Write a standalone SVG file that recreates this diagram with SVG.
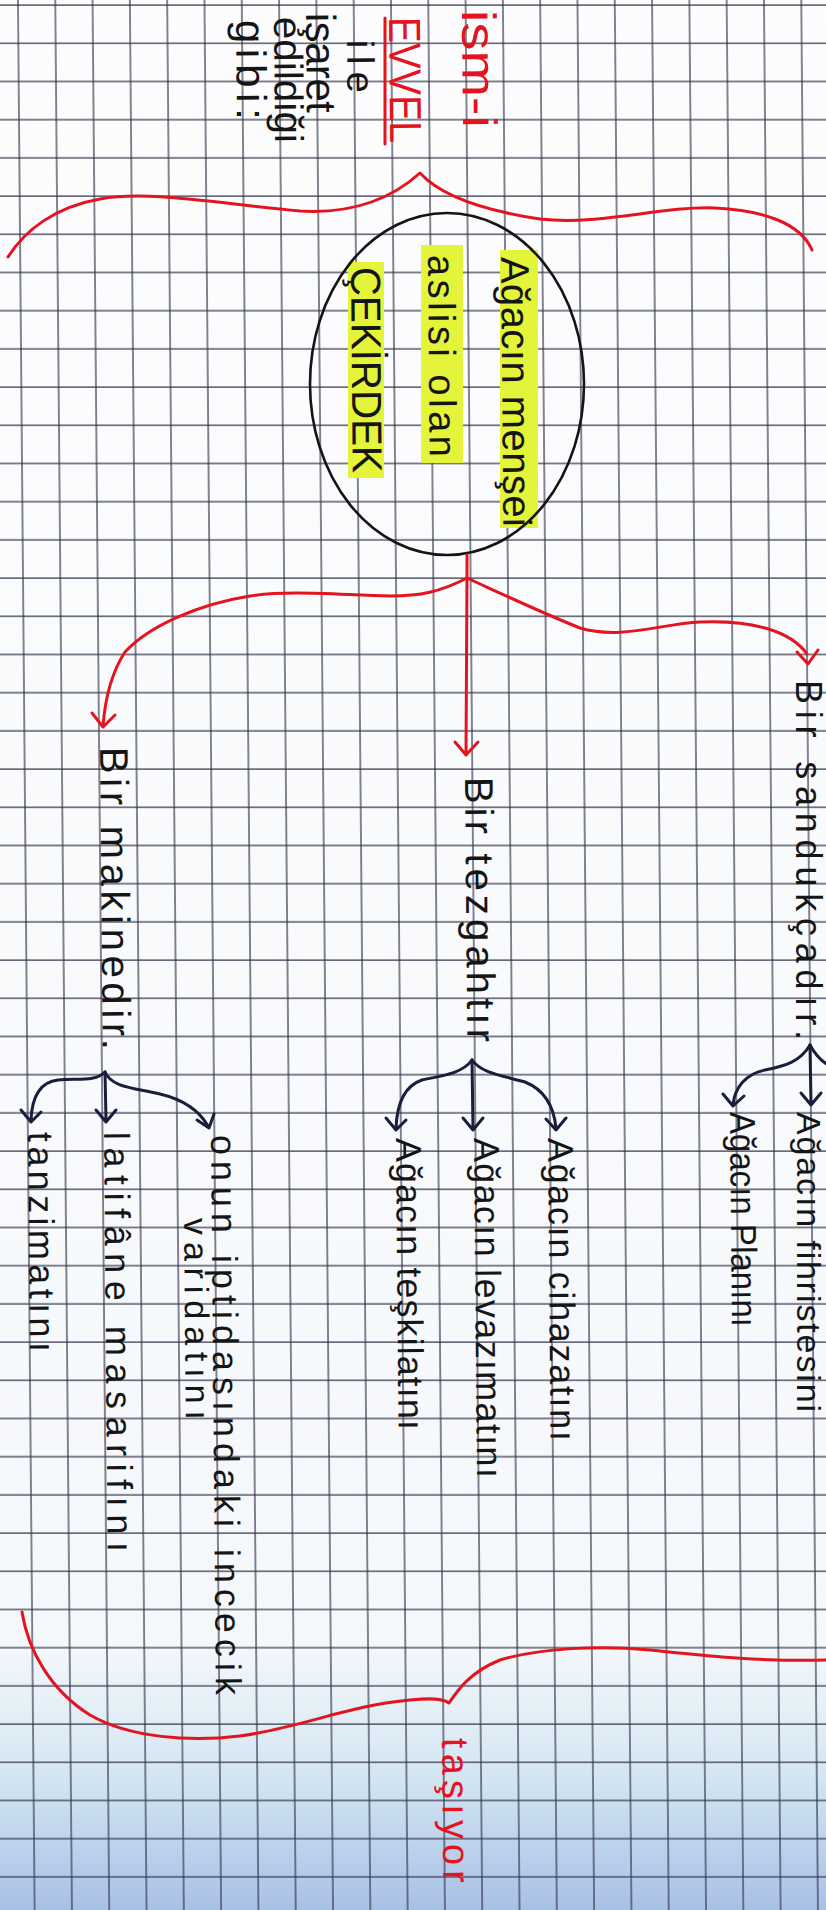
<svg xmlns="http://www.w3.org/2000/svg" width="826" height="1910" viewBox="0 0 826 1910">
<defs>
<linearGradient id="bg" x1="0" y1="0" x2="0" y2="1">
<stop offset="0" stop-color="#fdfdfe"/>
<stop offset="0.86" stop-color="#f5f8fb"/>
<stop offset="0.93" stop-color="#d3e6f2"/>
<stop offset="1" stop-color="#a9c0e6"/>
</linearGradient>
<pattern id="grid" width="37.3" height="38.2" patternUnits="userSpaceOnUse" patternTransform="translate(17 4) skewX(0.5)">
<path d="M1 0V38.2M0 1H37.3" stroke="#33334a" stroke-width="1.2" fill="none"/>
</pattern>
<style>
.red{fill:none;stroke:#e3141f;stroke-width:3;stroke-linecap:round;stroke-linejoin:round}
.blk{fill:none;stroke:#1b1d3a;stroke-width:3;stroke-linecap:round;stroke-linejoin:round}
.hl{fill:#e4f43a}
text{font-family:"Liberation Sans","DejaVu Sans",sans-serif}
.tb{fill:#151515}
.tr{fill:#e3141f}
</style>
</defs>
<rect width="826" height="1910" fill="url(#bg)"/>
<rect width="826" height="1910" fill="url(#grid)"/>

<g id="title">
<text class="tr" font-size="48" textLength="118" lengthAdjust="spacingAndGlyphs" transform="translate(462 10) rotate(89.5)">ism-i</text>
<text class="tr" font-size="45" textLength="126" lengthAdjust="spacingAndGlyphs" transform="translate(389 17) rotate(89.5)">EVVEL</text>
<line class="red" x1="385" y1="18" x2="385" y2="144"/>
<text class="tb" font-size="38" textLength="53" transform="translate(347 40) rotate(89.5)">ile</text>
<text class="tb" font-size="42" textLength="100" transform="translate(306 13) rotate(89.5)">işaret</text>
<text class="tb" font-size="40" textLength="126" transform="translate(274 17) rotate(89.5)">edildiği</text>
<text class="tb" font-size="42" textLength="100" transform="translate(236 20) rotate(89.5)">gibi:</text>
</g>

<g id="cekirdek">
<rect class="hl" x="500" y="250" width="38" height="278"/>
<rect class="hl" x="421" y="245" width="42" height="218"/>
<rect class="hl" x="348" y="262" width="36" height="216"/>
<ellipse cx="447" cy="384" rx="137" ry="171" fill="none" stroke="#141414" stroke-width="2.6"/>
<text class="tb" font-size="40" textLength="270" transform="translate(501 257) rotate(89.5)">Ağacın menşei</text>
<text class="tb" font-size="38" textLength="202" transform="translate(428 255) rotate(89.5)">aslisi olan</text>
<text class="tb" font-size="42" textLength="206" lengthAdjust="spacingAndGlyphs" transform="translate(351 267) rotate(89.5)">ÇEKİRDEK</text>
</g>

<g id="sandukca">
<text class="tb" font-size="36" textLength="360" transform="translate(796 680) rotate(90)">Bir sandukçadır.</text>
</g>
<g id="tezgah">
<text class="tb" font-size="40" textLength="265" transform="translate(465 777) rotate(89.5)">Bir tezgahtır</text>
</g>
<g id="makine">
<text class="tb" font-size="40" textLength="303" transform="translate(100 747) rotate(89.5)">Bir makinedir.</text>
</g>

<g id="fihriste"><text class="tb" font-size="34" textLength="300" transform="translate(797 1112) rotate(90)">Ağacın fihristesini</text></g>
<g id="plan"><text class="tb" font-size="36" textLength="215" lengthAdjust="spacingAndGlyphs" transform="translate(730 1112) rotate(89.5)">Ağacın Planını</text></g>
<g id="cihazat"><text class="tb" font-size="36" textLength="303" transform="translate(548 1138) rotate(89.5)">Ağacın cihazatını</text></g>
<g id="levazimat"><text class="tb" font-size="36" textLength="340" transform="translate(474 1138) rotate(89.5)">Ağacın levazımatını</text></g>
<g id="teskilat"><text class="tb" font-size="36" textLength="292" transform="translate(396 1138) rotate(89.5)">Ağacın teşkilatını</text></g>
<g id="varidat">
<text class="tb" font-size="36" textLength="560" transform="translate(211 1135) rotate(89.5)">onun iptidasındaki incecik</text>
<text class="tb" font-size="34" textLength="202" transform="translate(184 1218) rotate(89.5)">varidatını</text>
</g>
<g id="masarif"><text class="tb" font-size="36" textLength="420" transform="translate(104 1132) rotate(89.5)">latifâne masarifını</text></g>
<g id="tanzimat"><text class="tb" font-size="36" textLength="220" transform="translate(28 1132) rotate(89.5)">tanzimatını</text></g>
<g id="tasiyor"><text class="tr" font-size="38" textLength="145" transform="translate(442 1738) rotate(89.5)">taşıyor</text></g>

<g id="connectors">
<path class="red" d="M8,257 C25,230 55,207 100,199 C150,190 220,204 300,211 C350,214 390,200 420,173 C440,195 480,210 540,219 C600,226 660,206 715,208 C760,210 800,222 812,250"/>
<path class="red" d="M467,555 L467,578"/>
<path class="red" d="M467,578 C500,593 540,612 580,628 C620,640 660,624 700,622 C750,620 790,630 807,654"/>
<path class="red" d="M797,652 L808,664 L818,650"/>
<path class="red" d="M467,578 L466,754 M455,742 L466,755 L478,742"/>
<path class="red" d="M467,578 C440,592 420,596 390,596 C340,595 290,590 250,596 C200,604 150,625 125,652 C110,675 105,700 103,726 M92,713 L103,727 L115,715"/>
<path class="red" d="M22,1612 C28,1650 50,1690 90,1715 C130,1738 190,1742 240,1736 C300,1728 350,1705 410,1700 C430,1698 443,1698 449,1703 C458,1690 470,1672 500,1660 C540,1648 600,1645 650,1650 C700,1655 760,1662 826,1660"/>

<path class="blk" d="M810,1045 C800,1062 785,1066 765,1070 C745,1074 735,1088 733,1104 M723,1094 L733,1106 L744,1096"/>
<path class="blk" d="M810,1045 L811,1103 M801,1093 L811,1105 L821,1093"/>
<path class="blk" d="M810,1045 C816,1056 822,1062 830,1066"/>

<path class="blk" d="M472,1060 C462,1074 440,1076 422,1080 C404,1086 397,1104 396,1128 M386,1118 L396,1130 L406,1120"/>
<path class="blk" d="M472,1060 L473,1128 M463,1118 L473,1130 L483,1118"/>
<path class="blk" d="M472,1060 C482,1074 505,1076 525,1082 C545,1090 554,1108 556,1128 M546,1119 L556,1130 L566,1118"/>

<path class="blk" d="M105,1072 C95,1082 78,1078 58,1080 C40,1082 32,1096 31,1120 M21,1110 L31,1122 L41,1112"/>
<path class="blk" d="M105,1072 L106,1120 M96,1110 L106,1122 L116,1110"/>
<path class="blk" d="M105,1072 C112,1088 135,1088 160,1094 C185,1100 200,1112 208,1126 M197,1120 L209,1128 L214,1114"/>
</g>
</svg>
